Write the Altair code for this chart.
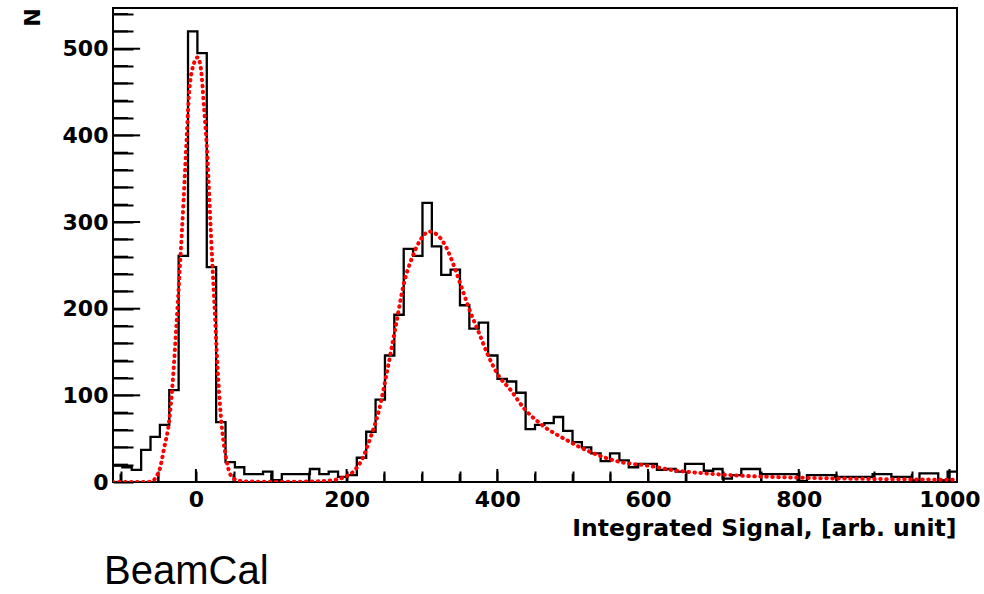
import altair as alt
import numpy as np
import pandas as pd

# Histogram: 90 bins from -110 to 1010
BIN_LO, BIN_HI = -110.0, 1010.0
counts = [19, 17, 14, 37, 52, 66, 106, 261, 520, 495,
          248, 69, 23, 17, 9, 9, 12, 2, 9, 9,
          9, 15, 9, 12, 6, 8, 28, 58, 95, 146,
          193, 269, 261, 322, 272, 239, 245, 204, 177, 184,
          146, 119, 116, 103, 61, 66, 68, 75, 59, 46,
          40, 33, 24, 33, 25, 17, 21, 21, 14, 15,
          12, 21, 21, 13, 15, 4, 8, 15, 15, 9,
          9, 9, 9, 1, 8, 8, 8, 6, 6, 6,
          6, 9, 9, 6, 6, 2, 10, 10, 2, 12]

# Fit curve
fit_x = [-110, -80, -60, -48.7, -42, -35.4, -30.9, -26.5, -21.2, -16.3, -11.9, -8.9, -2.3, 2.3,
         6.6, 11, 15.5, 19.9, 24.3, 28.7, 33.2, 39.8, 46.4, 55, 70, 100, 150, 180, 196.7, 210,
         221, 232, 243, 254, 265, 276, 287.4, 298.4, 309.4, 320.5, 331.5, 342.6, 353.6, 364.7,
         375.7, 386.8, 400, 417.8, 435.4, 457.5, 492.8, 528, 563.6, 598.9, 634.3, 669.6, 713.8,
         800, 900, 1010]
fit_y = [0, 0, 0.5, 13, 40, 71, 114, 172, 249, 326, 403, 450, 484, 490,
         477, 430, 372, 287, 210, 133, 75, 29, 7.5, 2, 0.5, 0.3, 0.5, 2, 5.6, 13,
         27, 52, 83, 129, 179, 229, 260, 280, 289, 285, 272, 249, 222, 195,
         172, 148, 125, 106, 85, 67, 48, 33, 23, 19, 13.5, 10.4, 7.7,
         5, 3.5, 2.5]

x_major = [0, 200, 400, 600, 800, 1000]
x_minor = [-100, -50, 50, 100, 150, 250, 300, 350, 450, 500, 550, 650, 700, 750, 850, 900, 950]
y_major = [0, 100, 200, 300, 400, 500]
y_minor = [20, 40, 60, 80, 120, 140, 160, 180, 220, 240, 260, 280, 320, 340, 360, 380,
           420, 440, 460, 480, 520, 540]

X_DOMAIN = [-110, 1010]
Y_DOMAIN = [0, 547]
W, H = 844, 474
XT_MAJ, XT_MIN = 15, 9.5
YT_MAJ, YT_MIN = 36, 20

edges = np.linspace(BIN_LO, BIN_HI, len(counts) + 1)
hist_df = pd.DataFrame({"x": list(edges), "n": counts + [counts[-1]]})
fit_df = pd.DataFrame({"x": fit_x, "n": fit_y})

rows = []
for k, v in enumerate(x_major):
    rows += [{"x": v, "n": 0, "id": f"xM{k}"}, {"x": v, "n": XT_MAJ, "id": f"xM{k}"}]
for k, v in enumerate(x_minor):
    rows += [{"x": v, "n": 0, "id": f"xm{k}"}, {"x": v, "n": XT_MIN, "id": f"xm{k}"}]
for k, v in enumerate(y_major):
    rows += [{"x": X_DOMAIN[0], "n": v, "id": f"yM{k}"}, {"x": X_DOMAIN[0] + YT_MAJ, "n": v, "id": f"yM{k}"}]
for k, v in enumerate(y_minor):
    rows += [{"x": X_DOMAIN[0], "n": v, "id": f"ym{k}"}, {"x": X_DOMAIN[0] + YT_MIN, "n": v, "id": f"ym{k}"}]
tick_df = pd.DataFrame(rows)

xs = alt.Scale(domain=X_DOMAIN, nice=False, zero=False)
ys = alt.Scale(domain=Y_DOMAIN, nice=False)

x_axis = alt.Axis(values=x_major, format="d", ticks=False, domain=False, grid=False,
                  labelFont="DejaVu Sans", labelFontWeight="bold", labelFontSize=22,
                  labelColor="black", labelPadding=7, labelFlush=False,
                  title="Integrated Signal, [arb. unit]", titleFont="DejaVu Sans",
                  titleFontWeight="bold", titleFontSize=23.5, titleColor="black",
                  titleAnchor="end", titleAlign="right", titleX=W - 1, titleY=46,
                  titleBaseline="middle")
y_axis = alt.Axis(values=y_major, format="d", ticks=False, domain=False, grid=False,
                  labelFont="DejaVu Sans", labelFontWeight="bold", labelFontSize=22,
                  labelColor="black", labelPadding=5, labelFlush=False,
                  title="N", titleFont="DejaVu Sans", titleFontWeight="bold",
                  titleFontSize=22, titleColor="black", titleAngle=270,
                  titleX=-81, titleY=9, titleAlign="center", titleBaseline="middle")

# inward-pointing tick axes: top axis moved to the bottom edge, right axis moved to the left edge
x_tick_axis = alt.Axis(orient="top", offset=-H, values=x_major + x_minor, labels=False,
                       domain=False, grid=False, title="", tickSize=11, tickWidth=2,
                       tickColor="black")
y_tick_axis = alt.Axis(orient="right", offset=-W, values=y_major + y_minor, labels=False,
                       domain=False, grid=False, title="", tickSize=20, tickWidth=2,
                       tickColor="black")

hist = alt.Chart(hist_df).mark_line(interpolate="step-after", color="black",
                                    strokeWidth=2.3, clip=True).encode(
    x=alt.X("x:Q", scale=xs, axis=x_axis),
    y=alt.Y("n:Q", scale=ys, axis=y_axis),
)

ticks = alt.Chart(tick_df).mark_line(color="black", strokeWidth=2).encode(
    x=alt.X("x:Q", scale=xs, axis=x_tick_axis),
    y=alt.Y("n:Q", scale=ys, axis=y_tick_axis),
    detail="id:N",
)

fit = alt.Chart(fit_df).mark_line(interpolate="monotone", color="#ff0000", strokeWidth=4,
                                  strokeDash=[0.5, 5.5], strokeCap="round", clip=True).encode(
    x=alt.X("x:Q", scale=xs, axis=None),
    y=alt.Y("n:Q", scale=ys, axis=None),
)

label = alt.Chart(pd.DataFrame({"t": ["BeamCal"]})).mark_text(
    font="Liberation Sans", fontSize=40, align="left", baseline="alphabetic", color="black"
).encode(text="t:N", x=alt.value(-9), y=alt.value(576))

chart = alt.layer(hist, ticks, fit, label).resolve_axis(
    x="independent", y="independent"
).properties(
    width=W, height=H,
    autosize=alt.AutoSizeParams(type="none"),
    padding={"left": 113, "top": 8, "right": 27, "bottom": 112},
    background="white",
).configure_view(stroke="black", strokeWidth=2)

chart.save("out.html", embed_options={"renderer": "svg", "actions": False})
